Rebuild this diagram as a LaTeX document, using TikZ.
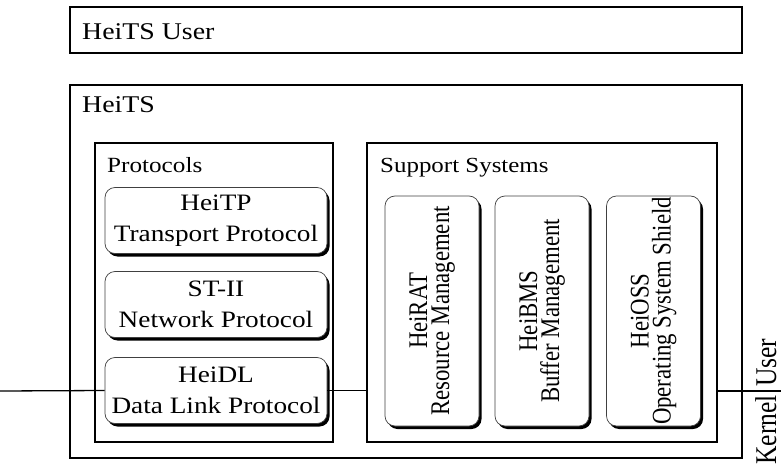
\documentclass[tikz,border=0pt]{standalone}
\usepackage{fontspec}
\setmainfont{Liberation Serif}
\usepackage{graphicx}
\usetikzlibrary{shadows}
\newcommand{\wx}[1]{\scalebox{1.16}[1]{#1}}
\newcommand{\wy}[1]{\scalebox{1}[1.18]{#1}}

\begin{document}
\begin{tikzpicture}[x=1pt,y=-1pt,
        frame/.style={draw,line width=1.3pt,inner sep=0pt},
        layer/.style={draw=black!75,line width=0.7pt,rounded corners=10pt,fill=white,inner sep=0pt,
            drop shadow={shadow xshift=2.5pt,shadow yshift=-3pt,fill=black,opacity=1}},
        title/.style={anchor=base west,inner sep=0pt},
        side/.style={rotate=90,inner sep=0pt,font=\fontsize{25.5}{26}\selectfont},
        wire/.style={line width=1.3pt}]
    \useasboundingbox (0,0) rectangle (781,465);
    \node[frame,minimum width=672pt,minimum height=46pt] (user) at (406,30) {};
    \node[frame,minimum width=672pt,minimum height=373pt] (heits) at (406,271.5) {};
    \node[frame,minimum width=238pt,minimum height=299pt] (protocols) at (214,292.5) {};
    \node[frame,minimum width=350pt,minimum height=299pt] (support) at (542,292.5) {};

    \node[title,font=\fontsize{24}{24}\selectfont] (usertitle) at (82,40) {\wx{HeiTS User}};
    \node[title,font=\fontsize{24}{24}\selectfont] (heitstitle) at (82,113) {\wx{HeiTS}};
    \node[title,font=\fontsize{21.7}{22}\selectfont] (prottitle) at (107,173) {\wx{Protocols}};
    \node[title,font=\fontsize{21.5}{22}\selectfont] (supptitle) at (380,173) {\wx{Support Systems}};

    \foreach \n/\y/\a/\b in {tp/220.5/HeiTP/Transport Protocol, st/304.5/ST-II/Network Protocol, dl/390.5/HeiDL/Data Link Protocol}
    {
        \node[layer,minimum width=222pt,minimum height=66pt,align=center,font=\fontsize{23.5}{31}\selectfont] (\n) at (216,\y) {\wx{\a}\\\wx{\b}};
    }
    \foreach \n/\x/\a/\b in {rat/432/HeiRAT/Resource Management, bms/542/HeiBMS/Buffer Management, oss/653.5/HeiOSS/Operating System Shield}
    {
        \node[layer,minimum width=94pt,minimum height=230pt] (\n) at (\x,311) {};
        \node[rotate=90,align=center,inner sep=0pt,font=\fontsize{22.8}{22}\selectfont] (\n text) at (\n) {\wy{\a}\\\wy{\b}};
    }

    \coordinate (wl) at (0,391);
    \coordinate (wr) at (781,391);
    \draw[wire] (wl) -- (dl.west);
    \draw[wire] (dl.east) -- (dl.east -| support.west);
    \draw[wire] (support.east |- wr) -- (wr);

    \node[side,anchor=base west] (usr) at (776,387) {\wy{User}};
    \node[side,anchor=base east] (krn) at (776,395) {\wy{Kernel}};
\end{tikzpicture}
\end{document}
